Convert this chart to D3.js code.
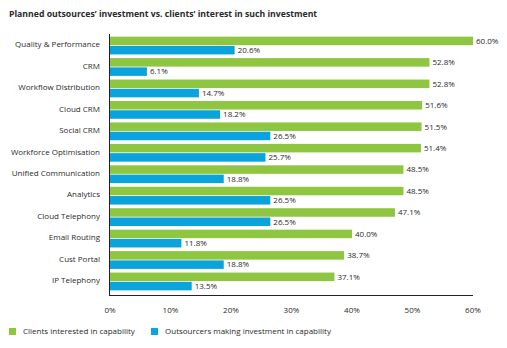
<!DOCTYPE html>
<html>
<head>
<meta charset="utf-8">
<script src="https://cdn.jsdelivr.net/npm/d3@7"></script>
<style>
  body { margin: 0; background: #fff; }
  text { font-family: "Open Sans", sans-serif; fill: #2a2a2a; }
</style>
</head>
<body>
<script>
const categories = ["Quality & Performance", "CRM", "Workflow Distribution", "Cloud CRM", "Social CRM",
  "Workforce Optimisation", "Unified Communication", "Analytics", "Cloud Telephony", "Email Routing",
  "Cust Portal", "IP Telephony"];
const clients = [60.0, 52.8, 52.8, 51.6, 51.5, 51.4, 48.5, 48.5, 47.1, 40.0, 38.7, 37.1];
const outsourcers = [20.6, 6.1, 14.7, 18.2, 26.5, 25.7, 18.8, 26.5, 26.5, 11.8, 18.8, 13.5];
const ticks = [0, 10, 20, 30, 40, 50, 60];
const seriesNames = ["Clients interested in capability", "Outsourcers making investment in capability"];
const colors = ["#8fc641", "#0aa3dc"];

const width = 507, height = 348;
const margin = { top: 34, right: 34, bottom: 53, left: 110 };

const svg = d3.select("body").append("svg")
  .attr("width", width)
  .attr("height", height);

svg.append("text")
  .attr("x", 9)
  .attr("y", 17)
  .attr("font-size", 8.7)
  .attr("font-weight", "bold")
  .text("Planned outsources\u2019 investment vs. clients\u2019 interest in such investment");

const x = d3.scaleLinear().domain([0, 60]).range([margin.left, width - margin.right]);
const y = d3.scaleBand().domain(categories).range([margin.top, height - margin.bottom]).padding(0.17);
const ys = d3.scaleBand().domain([0, 1]).range([0, y.bandwidth()]).paddingInner(0.08);

const rows = categories.map((c, i) => ({ c, vals: [clients[i], outsourcers[i]] }));

const g = svg.append("g").selectAll("g").data(rows).join("g")
  .attr("transform", d => `translate(0,${y(d.c) - 1})`);

g.selectAll("rect").data(d => d.vals).join("rect")
  .attr("x", x(0))
  .attr("y", (d, i) => ys(i))
  .attr("width", d => x(d) - x(0))
  .attr("height", ys.bandwidth())
  .attr("fill", (d, i) => colors[i]);

g.selectAll("text.val").data(d => d.vals).join("text")
  .attr("class", "val")
  .attr("x", d => x(d) + 3)
  .attr("y", (d, i) => ys(i) + ys.bandwidth() / 2)
  .attr("dy", "0.35em")
  .attr("font-size", 8)
  .text(d => d.toFixed(1) + "%");

// category labels
svg.append("g").selectAll("text").data(categories).join("text")
  .attr("x", margin.left - 10)
  .attr("y", d => y(d) + y.bandwidth() / 2 - 2)
  .attr("dy", "0.35em")
  .attr("text-anchor", "end")
  .attr("font-size", 8)
  .text(d => d);

// axes lines
svg.append("line")
  .attr("x1", x(0) - 0.5).attr("x2", x(0) - 0.5)
  .attr("y1", margin.top).attr("y2", height - margin.bottom + 0.5)
  .attr("stroke", "#222");
svg.append("line")
  .attr("x1", x(0) - 1).attr("x2", x(60))
  .attr("y1", height - margin.bottom + 0.5).attr("y2", height - margin.bottom + 0.5)
  .attr("stroke", "#222");

svg.append("g").selectAll("text").data(ticks).join("text")
  .attr("x", d => x(d))
  .attr("y", height - margin.bottom + 18)
  .attr("text-anchor", "middle")
  .attr("font-size", 8)
  .text(d => d + "%");

// legend
const legendX = [9, 151];
const lg = svg.append("g").selectAll("g").data(seriesNames).join("g")
  .attr("transform", (d, i) => `translate(${legendX[i]},328)`);
lg.append("rect").attr("width", 7).attr("height", 7).attr("fill", (d, i) => colors[i]);
lg.append("text")
  .attr("x", 14)
  .attr("y", 3.5)
  .attr("dy", "0.35em")
  .attr("font-size", 8)
  .text(d => d);
</script>
</body>
</html>
